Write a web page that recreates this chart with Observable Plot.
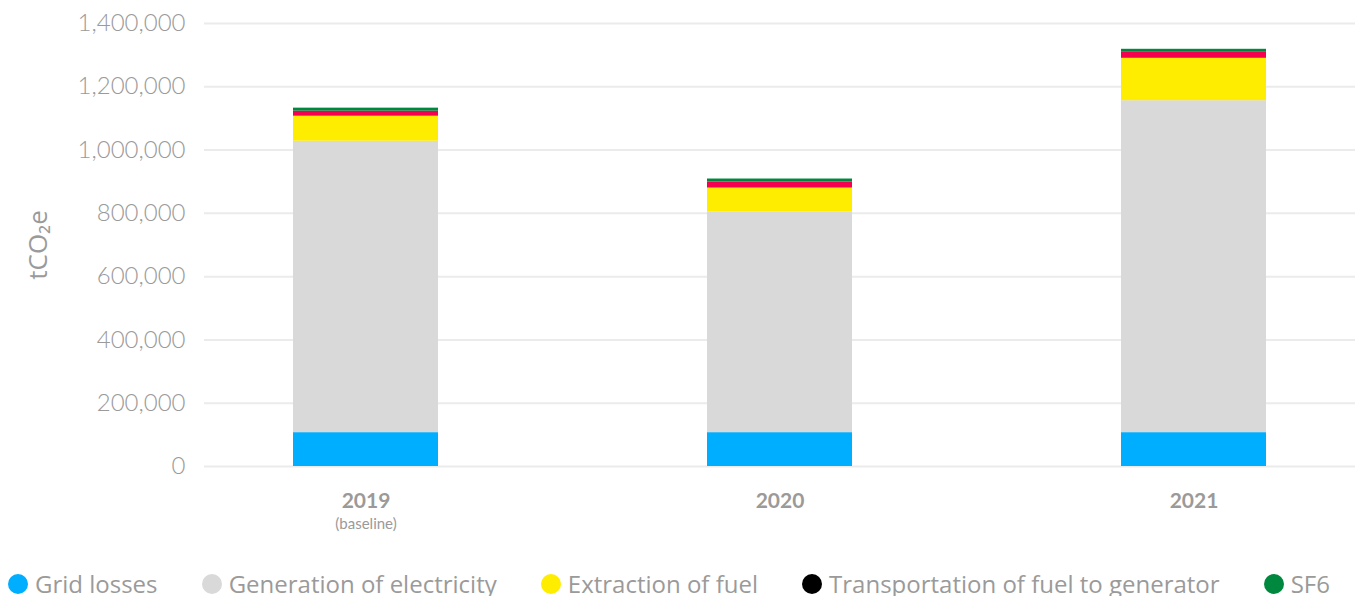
<!DOCTYPE html>
<html>
<head>
<meta charset="utf-8">
<script src="https://cdn.jsdelivr.net/npm/d3@7"></script>
<script src="https://cdn.jsdelivr.net/npm/@observablehq/plot@0.6"></script>
<style>
  body { margin: 0; background: #fff; font-family: Lato, "Open Sans", sans-serif; overflow: hidden; }
  #legend { display: flex; justify-content: space-between; width: 1322px; margin: 24px 0 0 8px; height: 24px; line-height: 24px; align-items: center; }
  .item { display: flex; align-items: center; font-family: "Open Sans", sans-serif; font-size: 24px; line-height: 24px; color: #9a9a9a; white-space: nowrap; }
  .dot { width: 20px; height: 20px; border-radius: 50%; margin-right: 7px; }
</style>
</head>
<body>
<div id="chart"></div>
<div id="legend"></div>
<script>
const years = ["2019", "2020", "2021"];
const yearSubLabels = ["(baseline)", "", ""];
const series = ["Grid losses", "Generation of electricity", "Extraction of fuel", "Transportation of fuel to generator", "SF6"];
const gridLosses = [107000, 107000, 107000];
const generation = [921000, 697000, 1049000];
const extraction = [79000, 76000, 134000];
const transport = [16000, 19000, 19000];
const sf6 = [9500, 9500, 9500];
const barColors = ["#00aeff", "#d9d9d9", "#ffed00", "#f5004f", "#00893e"];
const legendColors = ["#00aeff", "#d9d9d9", "#ffed00", "#000000", "#00893e"];
const yTicks = [0, 200000, 400000, 600000, 800000, 1000000, 1200000, 1400000];

const valuesBySeries = [gridLosses, generation, extraction, transport, sf6];
const rows = [];
series.forEach((s, si) => years.forEach((y, yi) => rows.push({year: y, series: s, value: valuesBySeries[si][yi]})));

const chart = Plot.plot({
  width: 1358,
  height: 548,
  marginTop: 23,
  marginBottom: 82,
  marginLeft: 204,
  marginRight: 3,
  style: {fontFamily: "Lato, 'Open Sans', sans-serif", color: "#9a9a9a", background: "#fff"},
  x: {domain: years, range: [86, 1473], paddingInner: 0.65, paddingOuter: 0.5, label: null},
  y: {domain: [0, 1400000], label: null},
  color: {domain: series, range: barColors},
  marks: [
    Plot.ruleY(yTicks, {stroke: "#ebebeb", strokeWidth: 2}),
    Plot.barY(rows, {x: "year", y: "value", fill: "series", order: series}),
    Plot.axisY({ticks: yTicks, tickSize: 0, tickPadding: 19, fontSize: 24, fontWeight: 300, fill: "#9a9a9a", label: null, tickFormat: d => d3.format(",")(d)}),
    Plot.axisX({tickSize: 0, tickPadding: 27, fontSize: 21, fontWeight: "bold", fill: "#9a9a9a", label: null}),
    Plot.text(years.map((y, i) => ({year: y, sub: yearSubLabels[i]})), {x: "year", text: "sub", frameAnchor: "bottom", dy: 62, fontSize: 15, fill: "#9a9a9a"}),
    Plot.text(["tCO₂e"], {frameAnchor: "left", textAnchor: "middle", dx: -166, rotate: -90, fontSize: 26, fontFamily: "'Open Sans', sans-serif", fill: "#9a9a9a"})
  ]
});
document.getElementById("chart").appendChild(chart);

const legend = document.getElementById("legend");
series.forEach((s, i) => {
  const item = document.createElement("div");
  item.className = "item";
  const dot = document.createElement("span");
  dot.className = "dot";
  dot.style.background = legendColors[i];
  item.appendChild(dot);
  item.appendChild(document.createTextNode(s));
  legend.appendChild(item);
});
</script>
</body>
</html>
